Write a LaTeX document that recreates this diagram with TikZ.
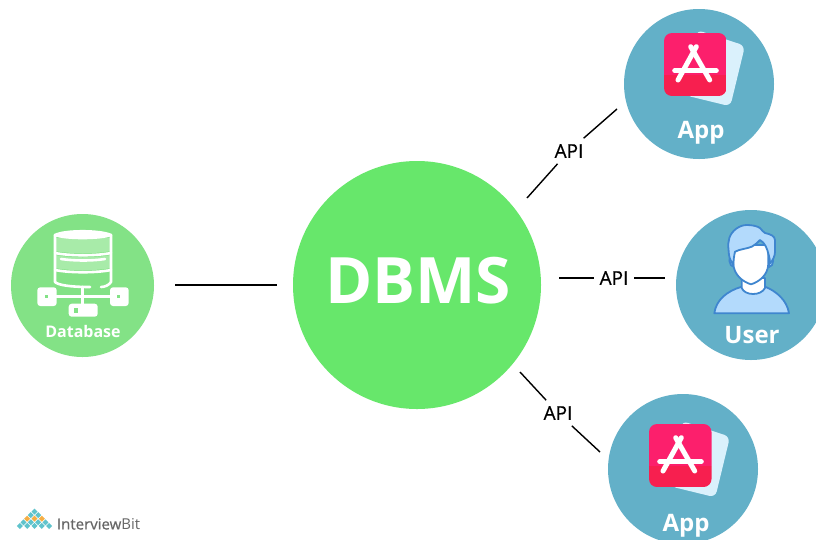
\documentclass[tikz,border=0pt]{standalone}
\usepackage{fontspec}
\setmainfont{Open Sans}
\usetikzlibrary{shapes.geometric}
\definecolor{c67e76b}{RGB}{103,231,107}
\definecolor{c83e286}{RGB}{131,226,134}
\definecolor{ca8eba9}{RGB}{168,235,169}
\definecolor{c63b0c8}{RGB}{99,176,200}
\definecolor{cdaf1fc}{RGB}{218,241,252}
\definecolor{cfc1f6c}{RGB}{252,31,108}
\definecolor{cf71f4f}{RGB}{247,31,79}
\definecolor{cb3dafc}{RGB}{179,218,252}
\definecolor{c3f86cf}{RGB}{63,134,207}
\definecolor{c5fc3cc}{RGB}{95,195,204}
\definecolor{cf5ae45}{RGB}{245,174,69}
\definecolor{c666666}{RGB}{102,102,102}
\tikzset{
  hub/.style={circle,fill=#1,draw=none,inner sep=0pt,outer sep=0pt},
  tag/.style={text=white,inner sep=0pt,outer sep=0pt},
  apilabel/.style={text=black,font=\fontsize{19}{19}\selectfont\addfontfeature{FakeBold=0.5},inner sep=6pt,outer sep=0pt},
  link/.style={draw=black,line width=1.4pt,line cap=butt},
  dot/.style={diamond,minimum size=6pt,inner sep=0pt,fill=#1},
  whiteline/.style={draw=white,line width=2.6pt,line cap=round,line join=round},
  logostroke/.style={draw=white,line width=5pt,line cap=round},
  userline/.style={draw=c3f86cf,line width=1.8pt,line join=round},
  appicon/.pic={
    \path[fill=cdaf1fc,rounded corners=6pt] (33,-3) -- (81,12.7) -- (66.3,73.3) -- (21.3,62.3) -- cycle;
    \begin{scope}
      \clip[rounded corners=8pt] (0,0) rectangle (62.5,63);
      \path[fill=cfc1f6c] (0,0) rectangle (62.5,42);
      \path[fill=cf71f4f] (0,42) rectangle (62.5,63);
    \end{scope}
    \path[logostroke] (32.3,13.7) -- (14,47);
    \path[logostroke] (26.7,13.7) -- (45.7,47);
    \path[logostroke] (10.7,37.7) -- (52.3,37.7);
  }
}

\begin{document}
\begin{tikzpicture}[y=-1pt, x=1pt, inner sep=0pt, outer sep=0pt]
  \clip (0,0) rectangle (816,539);
  \path[fill=white] (0,0) rectangle (816,539);

  \node[hub=c67e76b,minimum size=248pt] (dbms) at (417,285) {};
  \node[hub=c83e286,minimum size=143pt] (database) at (82.5,285.5) {};
  \node[hub=c63b0c8,minimum size=150pt] (app1) at (699,84) {};
  \node[hub=c63b0c8,minimum size=150pt] (user) at (751,285) {};
  \node[hub=c63b0c8,minimum size=150pt] (app2) at (683,469) {};

  \node[tag,font=\fontsize{64}{64}\selectfont\bfseries] (dbmstext) at (418,281) {DBMS};
  \node[tag,font=\fontsize{16}{16}\selectfont\bfseries] (databasetext) at (83,331) {Database};
  \node[tag,font=\fontsize{24}{24}\selectfont\bfseries] (app1text) at (701,133) {App};
  \node[tag,font=\fontsize{24}{24}\selectfont\bfseries] (usertext) at (752,335) {User};
  \node[tag,font=\fontsize{24}{24}\selectfont\bfseries] (app2text) at (686,526) {App};

  \node[apilabel] (api1) at (569,151) {API};
  \node[apilabel] (api2) at (614,278) {API};
  \node[apilabel] (api3) at (558,413) {API};

  \coordinate (a1in) at (527,198);
  \coordinate (a1out) at (617,109);
  \coordinate (a2in) at (559,278);
  \coordinate (a2out) at (665,278);
  \coordinate (a3in) at (520,372);
  \coordinate (a3out) at (600,452);

  \draw[link,shorten <=21pt,shorten >=16pt] (database.east |- dbms.west) -- (dbms.west);
  \draw[link] (a1in) -- (api1);
  \draw[link] (api1) -- (a1out);
  \draw[link] (a2in) -- (api2);
  \draw[link] (api2) -- (a2out);
  \draw[link] (a3in) -- (api3);
  \draw[link] (api3) -- (a3out);

  \pic at (664,33) {appicon};
  \pic at (649,424) {appicon};

  \path[fill=ca8eba9] (55,238) -- (111,238) -- (111,251) .. controls (95,254) and (70,254) .. (55,251) -- cycle;
  \path[fill=ca8eba9] (55,255) .. controls (70,258) and (95,258) .. (111,255) -- (111,268) .. controls (95,271) and (70,271) .. (55,268) -- cycle;
  \path[fill=white,whiteline] (55,235) .. controls (65,230) and (100,230) .. (111,235) .. controls (100,239) and (65,239) .. (55,235) -- cycle;
  \path[whiteline] (55,235) -- (55,282) .. controls (58,285) and (70,287) .. (90,287);
  \path[whiteline] (111,235) -- (111,282) .. controls (109,285) and (105,287) .. (101,287);
  \path[whiteline] (55,253) .. controls (70,256) and (96,256) .. (111,253);
  \path[whiteline] (55,270) .. controls (70,273) and (96,273) .. (111,270);
  \path[whiteline] (61,259) .. controls (75,261) and (92,261) .. (105,259);
  \path[whiteline] (82.7,287) -- (82.7,304);
  \path[whiteline] (56,296.7) -- (110,296.7);
  \path[fill=white,rounded corners=3pt] (37.3,287.3) rectangle (56.7,306);
  \path[fill=white,rounded corners=3pt] (110,287.3) rectangle (128.7,306);
  \path[fill=white,rounded corners=3pt] (68.7,303.7) rectangle (97.7,316.7);
  \path[fill=c83e286] (45.2,295.2) rectangle (48.2,298.2);
  \path[fill=c83e286] (117.2,294.8) rectangle (120.2,297.8);
  \path[fill=c83e286] (74,308) rectangle (77.5,312.5);

  \path[fill=cb3dafc,userline] (714.3,313.3) .. controls (716,300) and (727,291) .. (741.7,286.7) -- (765,286.7) .. controls (776,291) and (787,300) .. (789,313.3) -- cycle;
  \path[fill=white,userline] (741.7,278) -- (741.7,288) .. controls (745,296) and (761,296) .. (765,288) -- (765,278) -- cycle;
  \path[fill=cb3dafc,userline] (733,255) .. controls (727,255) and (729,267) .. (734,267) -- cycle;
  \path[fill=cb3dafc,userline] (769,255) .. controls (775,255) and (774,267) .. (769,267) -- cycle;
  \path[fill=white,userline] (733.3,245) -- (733.3,264) .. controls (734,275) and (743,282) .. (751,284.3) .. controls (759,282) and (768,275) .. (768.3,264) -- (768.3,245) -- cycle;
  \path[fill=cb3dafc,userline] (733.3,265) .. controls (730,260) and (728.7,256) .. (728.7,251.7) .. controls (728,245) and (728,242) .. (729.3,238) .. controls (732,230) and (740,225) .. (746.7,225) .. controls (752,225) and (757,226) .. (760,228) .. controls (762,230) and (763,232) .. (765,233) .. controls (770,234) and (775,236) .. (775,240) -- (775,251.7) .. controls (775,256) and (773,260) .. (770,263.3) .. controls (770,260) and (769.5,258) .. (768.7,255) .. controls (767,248) and (765,243) .. (760,240) .. controls (757,243) and (755,245) .. (751.7,246.7) .. controls (746,249) and (740,249) .. (735,251.7) .. controls (734,256) and (733.5,260) .. (733.3,265) -- cycle;

  \foreach \row/\col/\n in {0/c5fc3cc/1,1/c5fc3cc/2,2/cf5ae45/3,3/c5fc3cc/4,4/c5fc3cc/5}{
    \foreach \i in {1,...,\n}{
      \node[dot=\col] (logo\row\i) at ({34.5+7.3*(\i-1)-3.65*(\n-1)},{511.5+3.6*\row}) {};
    }
  }
  \node[text=c666666,anchor=west,font=\fontsize{15}{15}\selectfont] (logotext) at (57,524) {{\addfontfeature{FakeBold=0.6}Interview}Bit};
\end{tikzpicture}
\end{document}
